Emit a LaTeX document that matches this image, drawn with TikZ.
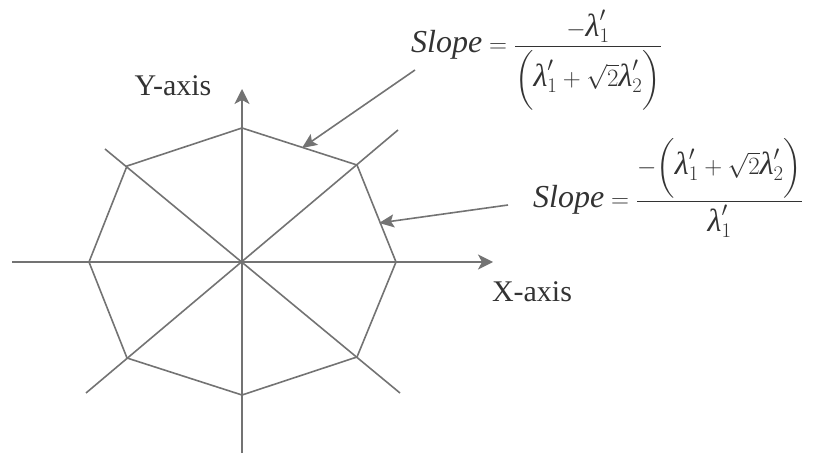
\documentclass[tikz,border=0pt]{standalone}
\usepackage{amsmath}
\usepackage{fontspec}
\setmainfont{Liberation Serif}
\usetikzlibrary{arrows.meta}
\definecolor{linegray}{gray}{0.45}
\definecolor{textgray}{gray}{0.2}
\tikzset{
  edge/.style={draw=linegray, line width=1.6pt},
  axisline/.style={draw=linegray, line width=1.6pt, -{Stealth[length=15pt,width=15pt,inset=4pt,fill=linegray]}},
  pointer/.style={draw=linegray, line width=1.6pt, -{Stealth[length=15pt,width=13pt,inset=3pt,fill=linegray]}},
  axislabel/.style={text=textgray, font=\fontsize{30}{34}\selectfont, inner sep=0pt},
  formula/.style={text=textgray, font=\fontsize{32}{38}\selectfont, inner sep=0pt, anchor=base west}
}
\newcommand{\lamp}[1]{\text{\itshape λ}_{#1}^{\prime}}
\begin{document}
\begin{tikzpicture}[x=1pt,y=-1pt]
\useasboundingbox (0,0) rectangle (814,454);
% centre and octagon vertices
\coordinate (O) at (242,262);
\coordinate (T) at (242,128);
\coordinate (UR) at (357,165);
\coordinate (R) at (396,262);
\coordinate (LR) at (357,357);
\coordinate (B) at (242,395);
\coordinate (LL) at (127,358);
\coordinate (L) at (89,262);
\coordinate (UL) at (127,166);
% ends of lines
\coordinate (xs) at (12,262);
\coordinate (xe) at (493,262);
\coordinate (ys) at (242,453);
\coordinate (ye) at (242,89);
\coordinate (d1s) at (105,149);
\coordinate (d1e) at (400,393);
\coordinate (d2s) at (86,393);
\coordinate (d2e) at (398,130);
% axes
\draw[axisline] (xs) -- (xe);
\draw[axisline] (ys) -- (ye);
% diagonals
\draw[edge] (d1s) -- (d1e);
\draw[edge] (d2s) -- (d2e);
% octagon
\draw[edge, line join=miter] (T) -- (UR) -- (R) -- (LR) -- (B) -- (LL) -- (L) -- (UL) -- cycle;
% labels
\node[axislabel] (ylab) at (173,86) {Y-axis};
\node[axislabel] (xlab) at (532,292) {X-axis};
% formulas
\node[formula] (f1) at (411,53) {$\textit{Slope}=\dfrac{-\lamp{1}}{\biggl(\lamp{1}+\sqrt{2}\lamp{2}\biggr)}$};
\node[formula] (f2) at (533,208) {$\textit{Slope}=\dfrac{-\biggl(\lamp{1}+\sqrt{2}\lamp{2}\biggr)}{\lamp{1}}$};
% pointer arrows
\coordinate (p1s) at (415,70);
\coordinate (p1e) at (302,148);
\coordinate (p2s) at (508,205);
\coordinate (p2e) at (379,223);
\draw[pointer] (p1s) -- (p1e);
\draw[pointer] (p2s) -- (p2e);
\end{tikzpicture}
\end{document}
